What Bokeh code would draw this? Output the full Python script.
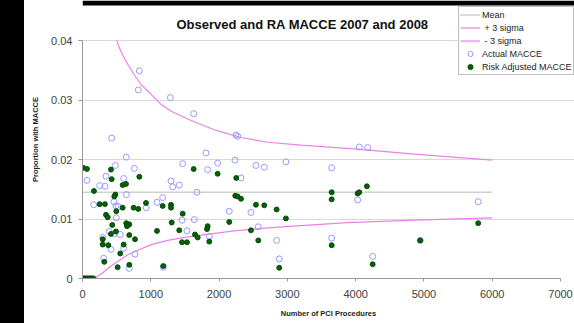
from bokeh.plotting import figure
from bokeh.models import (Range1d, FixedTicker, CustomJSTickFormatter, Label,
                          Legend, LegendItem, BoxAnnotation, Div)
from bokeh.layouts import row
from bokeh.embed import file_html
from bokeh.resources import INLINE

title_text = "Observed and RA MACCE 2007 and 2008"
x_label = "Number of PCI Procedures"
y_label = "Proportion with MACCE"
x_ticks = [0, 1000, 2000, 3000, 4000, 5000, 6000, 7000]
y_ticks = [0, 0.01, 0.02, 0.03, 0.04]

mean_n = [0, 6000]
mean_v = [0.0145, 0.0145]

upper_n = [500, 560, 662, 760, 857, 1000, 1149, 1300, 1540, 1750, 1980, 2320,
           2712, 3200, 3980, 4858, 6000]
upper_v = [0.0400, 0.0382, 0.0360, 0.0342, 0.0326, 0.0310, 0.0293, 0.0281,
           0.0268, 0.0258, 0.0248, 0.0237, 0.0229, 0.0224, 0.0218, 0.0209, 0.0199]

lower_n = [170, 271, 417, 662, 759, 1003, 1247, 1500, 1735, 2222, 2711, 3199,
           3882, 4858, 6000]
lower_v = [0.0, 0.0007, 0.0021, 0.0040, 0.0045, 0.0057, 0.0064, 0.0069,
           0.0073, 0.0080, 0.0085, 0.0089, 0.0094, 0.0098, 0.0102]

actual_n = [832, 817, 1286, 1628, 2247, 2272, 427, 641, 1808, 1467, 1979, 2233,
            2540, 2662, 2979, 481, 759, 1833, 4053, 4176, 3649, 66, 252, 329,
            344, 603, 641, 461, 490, 525, 164, 934, 495, 392, 466, 553, 296,
            417, 603, 769, 310, 685, 1183, 1091, 1174, 1296, 1321, 1417, 1457,
            1530, 1676, 1637, 1857, 2321, 2149, 2467, 2574, 2843, 2881, 4029,
            5795, 3649, 4946, 4249, 20, 60, 100, 140]
actual_v = [0.0349, 0.0317, 0.0304, 0.0277, 0.0241, 0.0239, 0.0236, 0.0204,
            0.0211, 0.0193, 0.0194, 0.0199, 0.0190, 0.0187, 0.0196, 0.0190,
            0.0185, 0.0183, 0.0221, 0.0220, 0.0186, 0.0165, 0.0156, 0.0155,
            0.0172, 0.0168, 0.0141, 0.0129, 0.0122, 0.0121, 0.0124, 0.0119,
            0.0102, 0.0079, 0.0075, 0.0074, 0.0069, 0.0049, 0.0051, 0.0041,
            0.0034, 0.0017, 0.0019, 0.0128, 0.0136, 0.0164, 0.0154, 0.0157,
            0.0098, 0.0080, 0.0145, 0.0099, 0.0071, 0.0169, 0.0113, 0.0111,
            0.0087, 0.0064, 0.0033, 0.0132, 0.0129, 0.0068, 0.0064, 0.0037,
            0.0, 0.0, 0.0, 0.0]

ra_n = [10, 66, 417, 427, 588, 637, 168, 832, 481, 466, 252, 329, 588, 749,
        817, 930, 495, 344, 369, 641, 685, 651, 436, 417, 490, 685, 769, 296,
        296, 378, 603, 553, 319, 515, 685, 1183, 1174, 1296, 1296, 1091, 1306,
        1467, 1417, 1457, 1530, 1628, 1647, 1687, 1979, 1833, 1823, 1857, 2252,
        2237, 2272, 2321, 2149, 2540, 2662, 2467, 2574, 2843, 2979, 2881, 3649,
        3649, 4165, 4029, 4053, 5795, 3649, 4946, 4249,
        10, 40, 70, 100, 130, 160]
ra_v = [0.0186, 0.0184, 0.0183, 0.0167, 0.0157, 0.0159, 0.0147, 0.0171, 0.0141,
        0.0138, 0.0125, 0.0125, 0.0119, 0.0119, 0.0117, 0.0127, 0.0113, 0.0107,
        0.0103, 0.0093, 0.0091, 0.0088, 0.0090, 0.0075, 0.0079, 0.0073, 0.0066,
        0.0066, 0.0057, 0.0056, 0.0057, 0.0042, 0.0028, 0.0019, 0.0023, 0.0021,
        0.0122, 0.0124, 0.0119, 0.0080, 0.0094, 0.0109, 0.0081, 0.0061, 0.0061,
        0.0184, 0.0074, 0.0069, 0.0176, 0.0088, 0.0083, 0.0062, 0.0169, 0.0139,
        0.0138, 0.0134, 0.0095, 0.0124, 0.0123, 0.0081, 0.0064, 0.0116, 0.0101,
        0.0018, 0.0145, 0.0133, 0.0155, 0.0143, 0.0145, 0.0093, 0.0056, 0.0064,
        0.0024,
        0.0, 0.0, 0.0, 0.0, 0.0, 0.0]

FONT = "Liberation Sans"

# main figure sits at (24, 0); frame 492 x 278 px (0..7000 spans 478 px, 0..0.04 spans 238 px)
p = figure(width=550, height=323, x_range=Range1d(0, 7205), y_range=Range1d(0, 0.046723),
           output_backend="svg", toolbar_location=None,
           min_border_left=58, min_border_right=0, min_border_top=0,
           min_border_bottom=45)
p.outline_line_color = None
p.background_fill_color = "white"
p.border_fill_color = "white"
p.xgrid.visible = False
p.ygrid.grid_line_color = "#d9d9d9"
p.ygrid.grid_line_width = 1
p.ygrid.bounds = (0, 7000)

p.xaxis.ticker = FixedTicker(ticks=x_ticks)
p.yaxis.ticker = FixedTicker(ticks=y_ticks)
p.xaxis.bounds = (0, 7000)
p.yaxis.bounds = (0, 0.04)
p.yaxis.formatter = CustomJSTickFormatter(code="return tick == 0 ? '0' : tick.toFixed(2);")
for ax in (p.xaxis[0], p.yaxis[0]):
    ax.axis_line_color = "#999999"
    ax.major_tick_line_color = "#999999"
    ax.minor_tick_line_color = None
    ax.major_tick_in = 0
    ax.major_label_text_font = FONT
    ax.major_label_text_font_size = "11px"
    ax.major_label_text_color = "#404040"
    ax.axis_label_text_font = FONT
    ax.axis_label_text_font_size = "7.5px"
    ax.axis_label_text_font_style = "bold"
    ax.axis_label_text_color = "#222222"
p.xaxis.major_tick_out = 3
p.xaxis.major_label_standoff = 8
p.xaxis.axis_label = x_label
p.xaxis.axis_label_standoff = 8
p.yaxis.major_tick_out = 4
p.yaxis.major_label_standoff = 6
p.yaxis.axis_label = y_label
p.yaxis.axis_label_standoff = 8

r_mean = p.line(mean_n, mean_v, line_color="#94a894", line_width=1.3, line_dash="1 1")
r_up = p.line(upper_n, upper_v, line_color="#ea80ea", line_width=1.2)
r_lo = p.line(lower_n, lower_v, line_color="#ea80ea", line_width=1.2)
r_act = p.scatter(actual_n, actual_v, marker="circle", size=6, fill_color=None,
                  line_color="#9999ff", line_width=1)
r_ra = p.scatter(ra_n, ra_v, marker="circle", size=5, fill_color="#006400",
                 line_color="#003a00", line_width=0.8)

legend = Legend(items=[
    LegendItem(label="Mean", renderers=[r_mean]),
    LegendItem(label=" + 3 sigma", renderers=[r_up]),
    LegendItem(label=" - 3 sigma", renderers=[r_lo]),
    LegendItem(label="Actual MACCE", renderers=[r_act]),
    LegendItem(label="Risk Adjusted MACCE", renderers=[r_ra]),
], location=(376, 203))
legend.label_text_font = FONT
legend.label_text_font_size = "9px"
legend.label_text_color = "#222222"
legend.glyph_width = 20
legend.glyph_height = 13
legend.label_height = 13
legend.label_standoff = 2
legend.spacing = 0
legend.padding = 1
legend.margin = 0
legend.border_line_color = "#808080"
legend.border_line_width = 1
legend.background_fill_color = "white"
legend.background_fill_alpha = 1
p.add_layout(legend)

p.add_layout(Label(x=220, y=254, x_units="screen", y_units="screen", text=title_text,
                   text_font=FONT, text_font_size="13px", text_font_style="bold",
                   text_align="center", text_baseline="middle", text_color="#111111"))

# black strip along the top edge of the screenshot
p.add_layout(BoxAnnotation(bottom=0.0459, fill_color="black", fill_alpha=1,
                           line_color=None, level="overlay"))

band = Div(text='<div style="width:24px;height:323px;background:#000;margin:0;padding:0"></div>',
           width=24, height=323, margin=0)

layout = row(band, p, spacing=0)

open("out.html", "w").write(file_html(layout, INLINE))
